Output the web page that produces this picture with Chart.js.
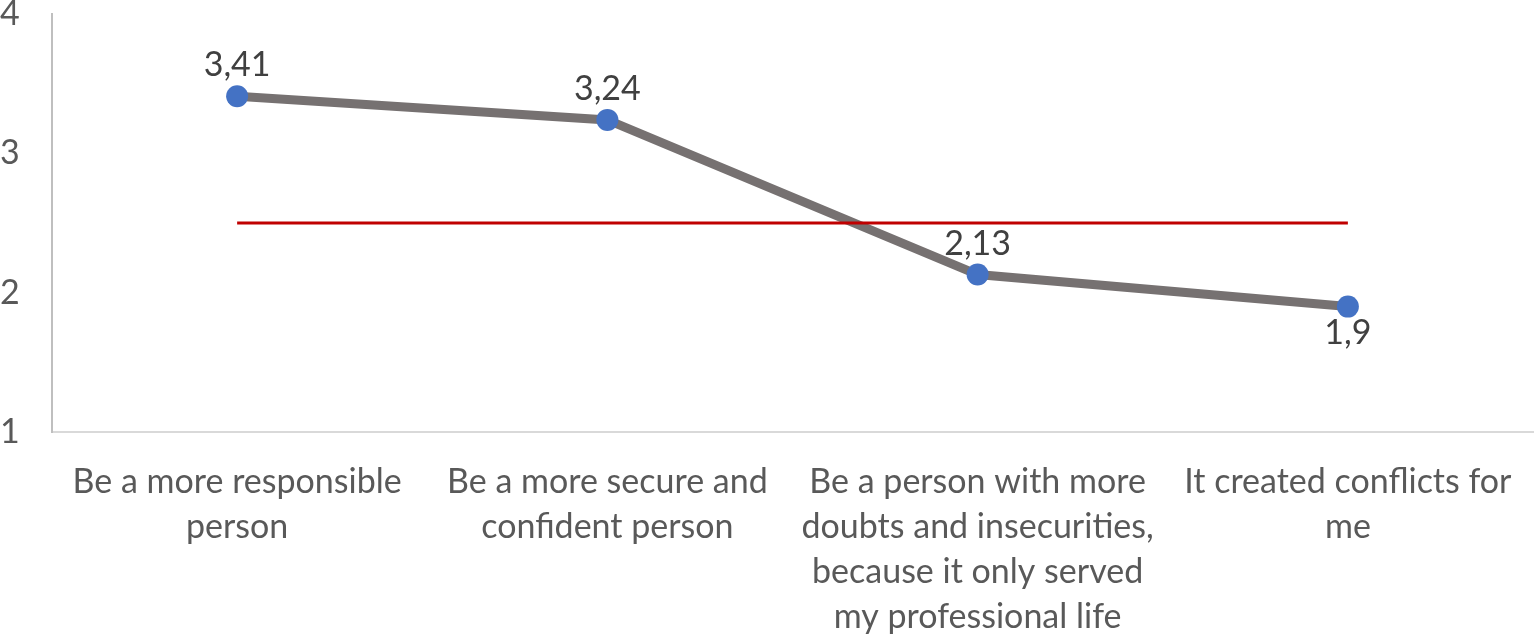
<!DOCTYPE html>
<html>
<head>
<meta charset="utf-8">
<script src="https://cdn.jsdelivr.net/npm/chart.js@4/dist/chart.umd.min.js"></script>
<style>
  html, body { margin: 0; padding: 0; background: #fff; overflow: hidden; }
  canvas { display: block; }
</style>
</head>
<body>
<canvas id="lineChart" width="1535" height="635"></canvas>
<script>
/******************** DATA ******************/
const categories = [
  ['Be a more responsible', 'person'],
  ['Be a more secure and', 'confident person'],
  ['Be a person with more', 'doubts and insecurities,', 'because it only served', 'my professional life'],
  ['It created conflicts for', 'me']
];
const meanValues = [3.41, 3.24, 2.13, 1.9];
const meanLabels = ['3,41', '3,24', '2,13', '1,9'];
const referenceValues = [2.5, 2.5, 2.5, 2.5];
const yTicks = [1, 2, 3, 4];

/******************** STYLE ******************/
const FONT = 'Lato, "Open Sans", sans-serif';
const FONT_SIZE = 34;
const labelSide = ['above', 'above', 'above', 'below'];

/**************** DATA LABEL PLUGIN ***********/
const valueLabelPlugin = {
  id: 'valueLabels',
  afterDatasetsDraw(chart) {
    const meta = chart.getDatasetMeta(1);
    const ctx = chart.ctx;
    ctx.save();
    ctx.font = `${FONT_SIZE}px ${FONT}`;
    ctx.fillStyle = '#404040';
    ctx.textAlign = 'center';
    meta.data.forEach((pt, i) => {
      if (labelSide[i] === 'below') {
        ctx.textBaseline = 'top';
        ctx.fillText(meanLabels[i], pt.x, pt.y + 9);
      } else {
        ctx.textBaseline = 'bottom';
        ctx.fillText(meanLabels[i], pt.x, pt.y - 14);
      }
    });
    ctx.restore();
  }
};

/********************* CHART ******************/
Chart.defaults.font.family = FONT;
Chart.defaults.font.size = FONT_SIZE;
Chart.defaults.color = '#595959';

new Chart(document.getElementById('lineChart'), {
  type: 'line',
  data: {
    labels: categories,
    datasets: [
      {
        label: 'Reference',
        data: referenceValues,
        borderColor: '#c00000',
        borderWidth: 3,
        pointRadius: 0,
        fill: false
      },
      {
        label: 'Mean',
        data: meanValues,
        borderColor: '#767171',
        borderWidth: 9,
        pointRadius: 11,
        pointBorderWidth: 0,
        pointBackgroundColor: '#4472c4',
        pointBorderColor: '#4472c4',
        fill: false
      }
    ]
  },
  options: {
    responsive: false,
    animation: false,
    layout: { autoPadding: false, padding: { top: 14, right: 2, left: 0, bottom: 0 } },
    plugins: {
      legend: { display: false },
      tooltip: { enabled: false }
    },
    scales: {
      x: {
        offset: true,
        grid: { display: false, drawTicks: false },
        border: { display: true, color: '#d9d9d9', width: 2 },
        ticks: { padding: 28, maxRotation: 0, autoSkip: false, color: '#595959', font: { lineHeight: 1.32 } },
        afterFit(scale) {
          scale.height = 203;
          scale.paddingLeft = 0;
          scale.paddingRight = 0;
        }
      },
      y: {
        min: 1,
        max: 4,
        afterBuildTicks(scale) { scale.ticks = yTicks.map(v => ({ value: v })); },
        grid: { display: false, drawTicks: false },
        border: { display: true, color: '#bfbfbf', width: 2 },
        ticks: { crossAlign: 'far', padding: 0, color: '#595959' },
        afterFit(scale) {
          scale.width = 52;
          scale.paddingTop = 0;
          scale.paddingBottom = 0;
        }
      }
    }
  },
  plugins: [valueLabelPlugin]
});
</script>
</body>
</html>
